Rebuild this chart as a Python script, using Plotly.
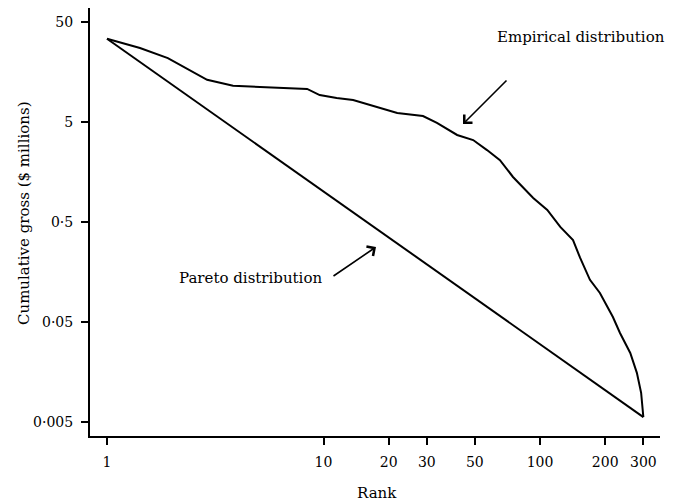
import plotly.graph_objects as go

# Data (log-log)
emp_rank = [1, 1.42, 1.91, 2.9, 3.82, 6.3, 8.4, 9.6, 11.5, 13.7, 17.7, 21.9, 28.8, 33.4,
            41.4, 49.1, 56.9, 65.3, 75, 93, 108, 124, 142, 153, 170, 189, 217, 234, 261,
            280, 293, 300]
emp_value = [34, 27.5, 21.8, 13.2, 11.5, 10.9, 10.7, 9.3, 8.7, 8.3, 7.06, 6.15, 5.74, 4.89,
             3.71, 3.30, 2.62, 2.08, 1.41, 0.87, 0.66, 0.446, 0.33, 0.22, 0.132, 0.0975,
             0.0561, 0.0388, 0.0245, 0.0155, 0.0098, 0.0056]
pareto_rank = [1, 300]
pareto_value = [34, 0.0056]

x_tickvals = [1, 10, 20, 30, 50, 100, 200, 300]
x_ticktext = ["1", "10", "20", "30", "50", "100", "200", "300"]
y_tickvals = [50, 5, 0.5, 0.05, 0.005]
y_ticktext = ["50", "5", "0·5", "0·05", "0·005"]

FONT = "DejaVu Serif"

fig = go.Figure()
fig.add_trace(go.Scatter(x=emp_rank, y=emp_value, mode="lines",
                         line=dict(color="black", width=2), name="Empirical distribution",
                         showlegend=False))
fig.add_trace(go.Scatter(x=pareto_rank, y=pareto_value, mode="lines",
                         line=dict(color="black", width=2), name="Pareto distribution",
                         showlegend=False))

axis_common = dict(showline=True, linecolor="black", linewidth=2, ticks="outside",
                   ticklen=7, tickwidth=1.5, tickcolor="black", showgrid=False,
                   zeroline=False, ticklabelstandoff=5,
                   tickfont=dict(family=FONT, size=14, color="black"))

fig.update_xaxes(type="log", range=[-0.0785, 2.554], tickvals=x_tickvals,
                 ticktext=x_ticktext, **axis_common)
fig.update_yaxes(type="log", range=[-2.441, 1.839], tickvals=y_tickvals,
                 ticktext=y_ticktext, **axis_common)

ann_font = dict(family=FONT, size=15, color="black")
fig.update_layout(
    width=684, height=504,
    margin=dict(l=90, r=24, t=8, b=68),
    paper_bgcolor="white", plot_bgcolor="white",
    annotations=[
        dict(text="Cumulative gross ($ millions)", xref="paper", yref="paper",
             x=(24 - 90) / 570, y=(436 - 213) / 428, textangle=-90,
             xanchor="center", yanchor="middle", showarrow=False, font=ann_font),
        dict(text="Rank", xref="paper", yref="paper", x=(377 - 90) / 570,
             y=(436 - 493) / 428, xanchor="center", yanchor="middle",
             showarrow=False, font=ann_font),
        dict(text="Empirical distribution", xref="paper", yref="paper",
             x=(495 - 90) / 570, y=(436 - 37) / 428, xanchor="left", yanchor="middle",
             showarrow=False, font=ann_font),
        dict(text="Pareto distribution", xref="paper", yref="paper",
             x=(324 - 90) / 570, y=(436 - 278) / 428, xanchor="right", yanchor="middle",
             showarrow=False, font=ann_font),
        dict(text="", xref="paper", yref="paper",
             x=(463 - 90) / 570, y=(436 - 124) / 428, ax=45, ay=-45,
             showarrow=True, arrowhead=4, arrowsize=1.4, arrowwidth=1.6, arrowcolor="black"),
        dict(text="", xref="paper", yref="paper",
             x=(376 - 90) / 570, y=(436 - 247) / 428, ax=-44, ay=30,
             showarrow=True, arrowhead=4, arrowsize=1.4, arrowwidth=1.6, arrowcolor="black"),
    ],
)

fig.write_html("out.html")
